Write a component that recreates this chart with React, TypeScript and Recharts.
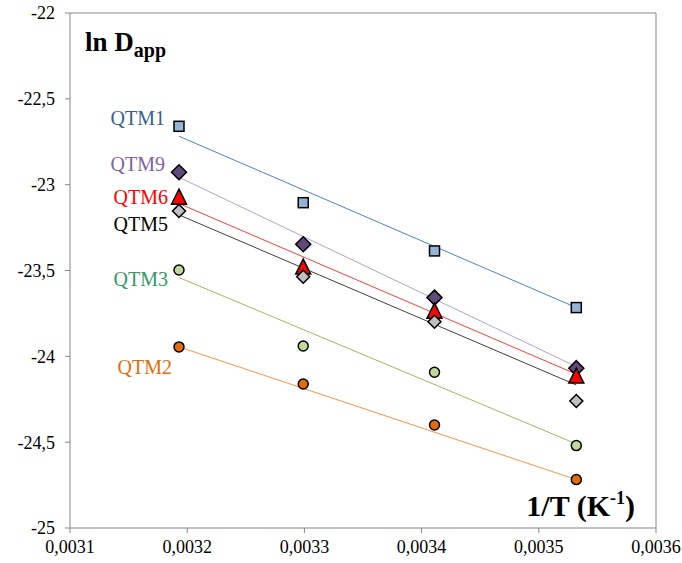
import React from 'react';
import { ComposedChart, Scatter, XAxis, YAxis, ReferenceLine } from 'recharts';

// 1/T values (K^-1), shared by every series
const invT = [0.003193, 0.003299, 0.003411, 0.003532];

// ln Dapp
const qtm1 = [-22.66, -23.105, -23.386, -23.716];
const qtm9 = [-22.928, -23.347, -23.658, -24.069];
const qtm6 = [-23.07, -23.477, -23.734, -24.112];
const qtm5 = [-23.153, -23.536, -23.798, -24.26];
const qtm3 = [-23.497, -23.94, -24.093, -24.52];
const qtm2 = [-23.945, -24.161, -24.4, -24.718];

// trendline ends (at the first and last 1/T)
// order: QTM1, QTM9, QTM6, QTM5, QTM3, QTM2
const trendStart = [-22.718, -22.957, -23.11, -23.176, -23.541, -23.945];
const trendEnd = [-23.716, -24.06, -24.104, -24.167, -24.51, -24.718];

const xTicks = [0.0031, 0.0032, 0.0033, 0.0034, 0.0035, 0.0036];
const yTicks = [-25, -24.5, -24, -23.5, -23, -22.5, -22];

const FONT = 'Liberation Serif';
const AXIS = '#868686';

type Marker = 'square' | 'diamond' | 'triangle' | 'circle';

interface Series {
  name: string;
  values: number[];
  marker: Marker;
  size: number;
  fill: string;
  line: string;
  labelColor: string;
  labelX: number;
  labelY: number;
}

const series: Series[] = [
  { name: 'QTM1', values: qtm1, marker: 'square', size: 10, fill: '#95B3D7', line: '#4F81BD', labelColor: '#376092', labelX: 165, labelY: 125 },
  { name: 'QTM9', values: qtm9, marker: 'diamond', size: 15, fill: '#604A7B', line: '#B3A2C7', labelColor: '#8064A2', labelX: 165, labelY: 171 },
  { name: 'QTM6', values: qtm6, marker: 'triangle', size: 15, fill: '#FF0000', line: '#FF3B3B', labelColor: '#FF0000', labelX: 168, labelY: 204 },
  { name: 'QTM5', values: qtm5, marker: 'diamond', size: 13, fill: '#BFBFBF', line: '#404040', labelColor: '#000000', labelX: 168, labelY: 231 },
  { name: 'QTM3', values: qtm3, marker: 'circle', size: 10, fill: '#C3D69B', line: '#9BBB59', labelColor: '#339966', labelX: 168, labelY: 286 },
  { name: 'QTM2', values: qtm2, marker: 'circle', size: 10, fill: '#E36C09', line: '#F79646', labelColor: '#E46C0A', labelX: 172, labelY: 374 },
];

function makeShape(kind: Marker, size: number, fill: string) {
  return (props: any) => {
    const { cx, cy } = props;
    if (cx == null || cy == null) return <g />;
    const h = size / 2;
    const common = { fill, stroke: '#000', strokeWidth: 1.5 };
    if (kind === 'square') return <rect x={cx - h} y={cy - h} width={size} height={size} {...common} />;
    if (kind === 'circle') return <circle cx={cx} cy={cy} r={h} {...common} />;
    if (kind === 'diamond')
      return <path d={`M${cx},${cy - h}L${cx + h},${cy}L${cx},${cy + h}L${cx - h},${cy}Z`} {...common} />;
    return <path d={`M${cx},${cy - h}L${cx + h},${cy + h}L${cx - h},${cy + h}Z`} {...common} />;
  };
}

const fmtX = (v: number) => v.toFixed(4).replace('.', ',');
const fmtY = (v: number) => (Number.isInteger(v) ? String(v) : v.toFixed(1).replace('.', ','));

export default function App() {
  const W = 682;
  const H = 563;
  const first = invT[0];
  const last = invT[invT.length - 1];
  return (
    <div
      style={{ position: 'absolute', left: 0, top: 0, width: W, height: H, background: '#fff', fontFamily: FONT }}
    >
      <ComposedChart width={W} height={H} margin={{ top: 13, right: 26, left: 0, bottom: 0 }} style={{ fontFamily: FONT }}>
        <XAxis
          type="number"
          dataKey="x"
          domain={[0.0031, 0.0036]}
          ticks={xTicks}
          tickFormatter={fmtX}
          height={35}
          stroke={AXIS}
          tickSize={5}
          tickMargin={7}
          tick={{ fill: '#000', fontSize: 18, fontFamily: FONT }}
          allowDataOverflow
        />
        <YAxis
          type="number"
          dataKey="y"
          domain={[-25, -22]}
          ticks={yTicks}
          tickFormatter={fmtY}
          width={70}
          stroke={AXIS}
          tickSize={5}
          tickMargin={10}
          tick={{ fill: '#000', fontSize: 18, fontFamily: FONT }}
          allowDataOverflow
        />
        <ReferenceLine y={-22} stroke={AXIS} />
        <ReferenceLine x={0.0036} stroke={AXIS} />
        {series.map((s, i) => (
          <Scatter
            key={s.name + '-trend'}
            data={[
              { x: first, y: trendStart[i] },
              { x: last, y: trendEnd[i] },
            ]}
            line={{ stroke: s.line, strokeWidth: 1 }}
            shape={() => <g />}
            isAnimationActive={false}
          />
        ))}
        {series.map((s) => (
          <Scatter
            key={s.name}
            name={s.name}
            data={invT.map((x, i) => ({ x, y: s.values[i] }))}
            shape={makeShape(s.marker, s.size, s.fill)}
            isAnimationActive={false}
          />
        ))}
      </ComposedChart>
      <svg width={W} height={H} style={{ position: 'absolute', left: 0, top: 0, pointerEvents: 'none' }}>
        {series.map((s) => (
          <text key={s.name} x={s.labelX} y={s.labelY} textAnchor="end" fill={s.labelColor} fontSize={20} fontFamily={FONT}>
            {s.name}
          </text>
        ))}
        <text x={85} y={51} fontFamily={FONT} fontWeight="bold" fontSize={27} fill="#000">
          ln D
          <tspan fontSize={20} dy={6}>app</tspan>
        </text>
        <text x={635} y={516} textAnchor="end" fontFamily={FONT} fontWeight="bold" fontSize={30} fill="#000">
          1/T (K
          <tspan fontSize={18} dy={-12}>-1</tspan>
          <tspan dy={12}>)</tspan>
        </text>
      </svg>
    </div>
  );
}
